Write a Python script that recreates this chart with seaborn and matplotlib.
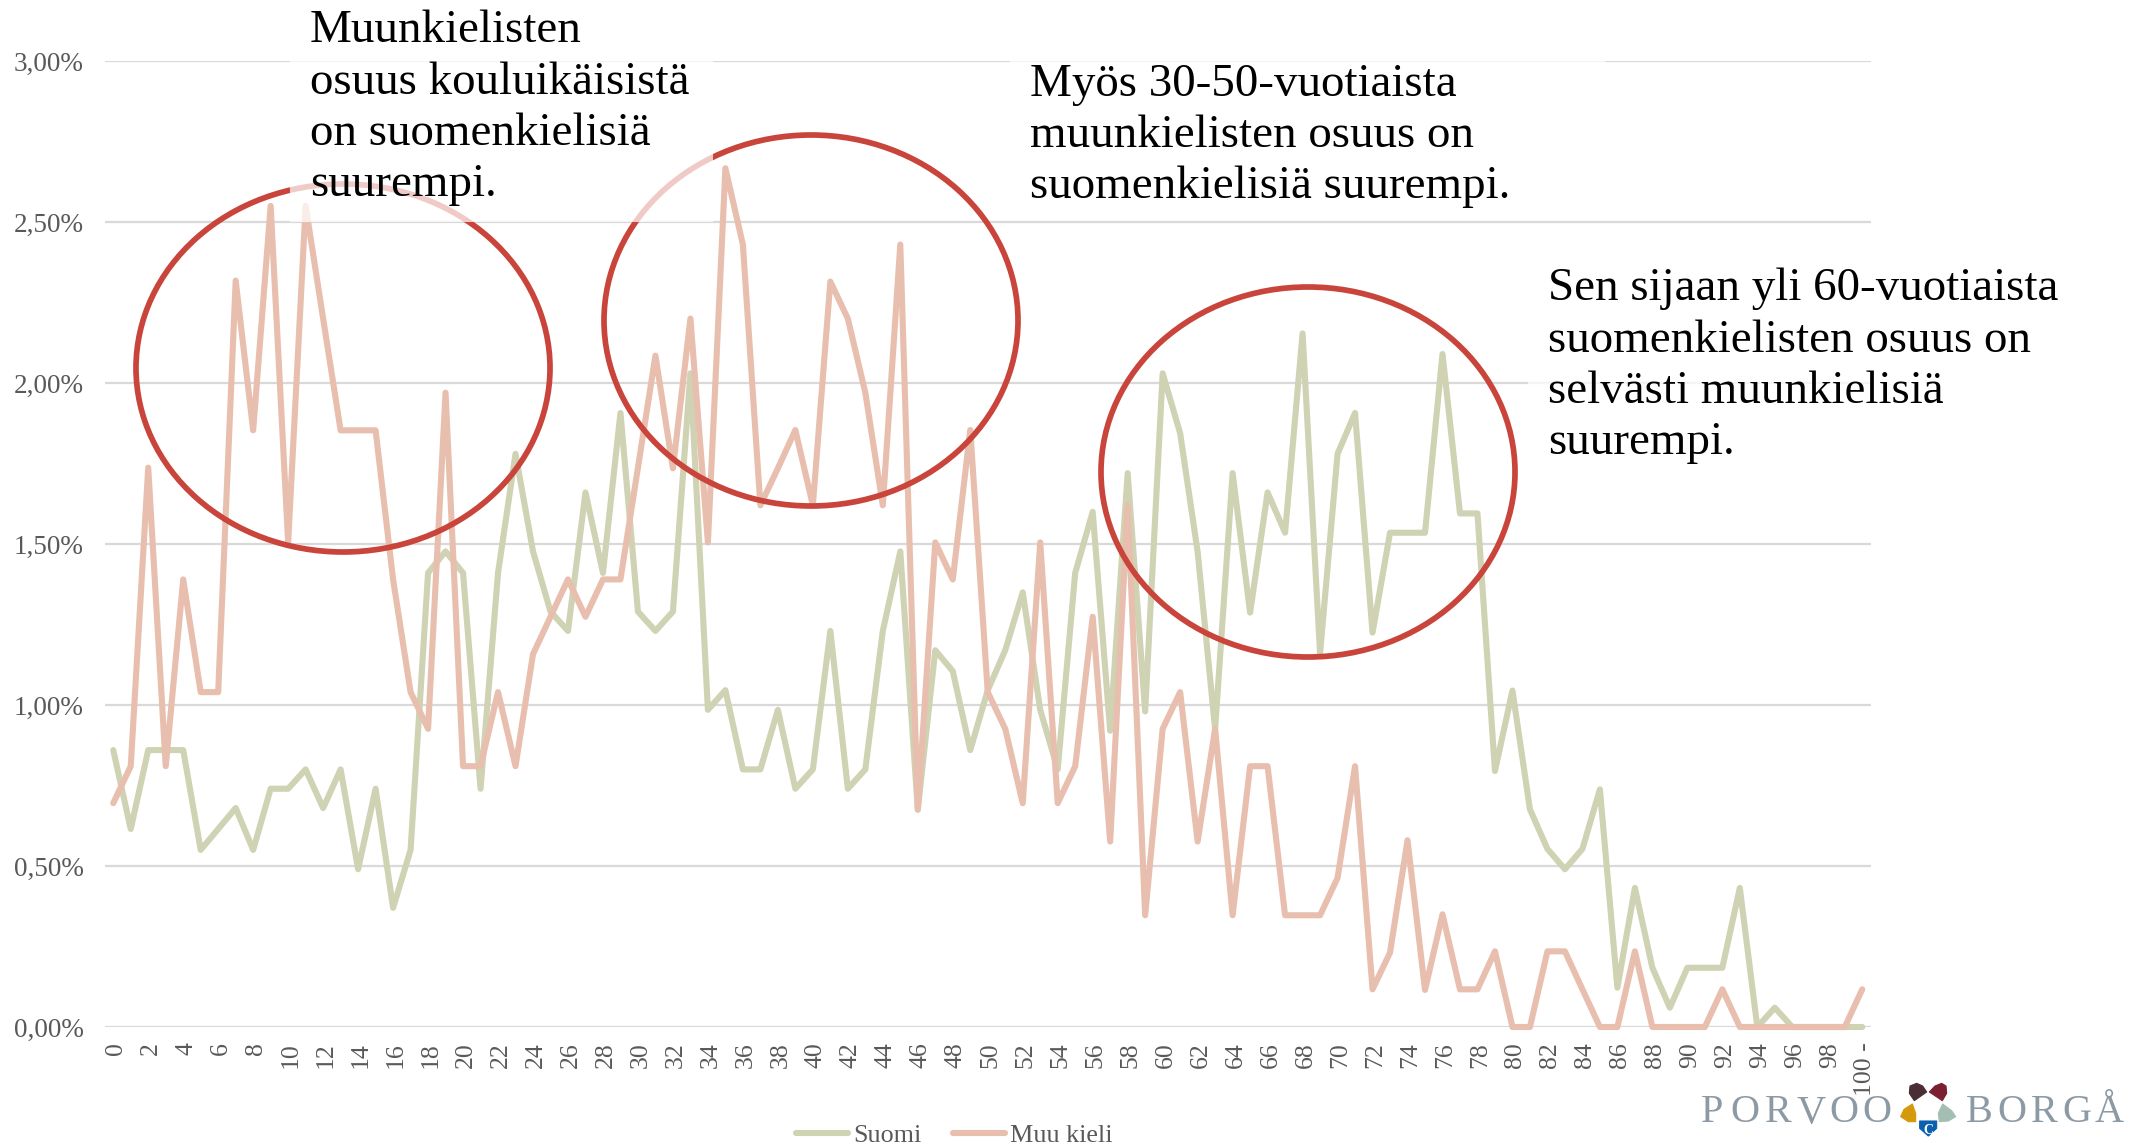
import numpy as np
import pandas as pd
import matplotlib
matplotlib.use("Agg")
import matplotlib.pyplot as plt
import seaborn as sns
from matplotlib.patches import Ellipse, Rectangle, Polygon
from matplotlib.transforms import ScaledTranslation

# osuudet ikavuosittain (%)
ika = list(range(101))
suomi = [0.86, 0.615, 0.86, 0.86, 0.86, 0.55, 0.615, 0.68, 0.55, 0.74,
         0.74, 0.80, 0.68, 0.80, 0.49, 0.74, 0.37, 0.55, 1.41, 1.477,
         1.41, 0.74, 1.41, 1.78, 1.477, 1.29, 1.23, 1.66, 1.41, 1.907,
         1.29, 1.23, 1.29, 2.03, 0.985, 1.046, 0.80, 0.80, 0.985, 0.74,
         0.80, 1.23, 0.74, 0.80, 1.23, 1.477, 0.675, 1.17, 1.105, 0.86,
         1.046, 1.17, 1.35, 0.985, 0.80, 1.41, 1.60, 0.92, 1.72, 0.98,
         2.03, 1.844, 1.476, 0.925, 1.72, 1.287, 1.66, 1.535, 2.154, 1.16,
         1.78, 1.907, 1.225, 1.535, 1.535, 1.535, 2.09, 1.595, 1.595, 0.795,
         1.045, 0.676, 0.553, 0.49, 0.553, 0.738, 0.122, 0.432, 0.184, 0.06,
         0.184, 0.184, 0.184, 0.432, 0.0, 0.06, 0.0, 0.0, 0.0, 0.0, 0.0]
muu = [0.695, 0.81, 1.737, 0.81, 1.39, 1.04, 1.04, 2.318, 1.853, 2.55,
       1.505, 2.55, 2.2, 1.853, 1.853, 1.853, 1.39, 1.04, 0.926, 1.97,
       0.81, 0.81, 1.04, 0.81, 1.158, 1.274, 1.39, 1.274, 1.39, 1.39,
       1.737, 2.085, 1.735, 2.2, 1.505, 2.667, 2.43, 1.62, 1.735, 1.854,
       1.62, 2.315, 2.2, 1.97, 1.62, 2.43, 0.675, 1.505, 1.39, 1.854,
       1.04, 0.926, 0.695, 1.505, 0.695, 0.81, 1.274, 0.576, 1.62, 0.347,
       0.926, 1.04, 0.576, 0.926, 0.347, 0.81, 0.81, 0.347, 0.347, 0.347,
       0.463, 0.81, 0.117, 0.231, 0.58, 0.115, 0.35, 0.117, 0.117, 0.235,
       0.0, 0.0, 0.235, 0.235, 0.117, 0.0, 0.0, 0.235, 0.0, 0.0,
       0.0, 0.0, 0.117, 0.0, 0.0, 0.0, 0.0, 0.0, 0.0, 0.0, 0.117]
x_labels = [str(i) if i % 2 == 0 else "" for i in range(100)] + ["100 -"]
y_ticks = [0, 0.5, 1, 1.5, 2, 2.5, 3]
y_labels = ["0,00%", "0,50%", "1,00%", "1,50%", "2,00%", "2,50%", "3,00%"]

W, H = 2131, 1145
SERIF = "Liberation Serif"

sns.set_style("white")
plt.rcParams["font.family"] = [SERIF, "DejaVu Serif"]

df = pd.DataFrame({"ika": ika * 2,
                   "osuus": suomi + muu,
                   "kieli": ["Suomi"] * 101 + ["Muu kieli"] * 101})

fig = plt.figure(figsize=(W / 100, H / 100), dpi=100)
ax = fig.add_axes([104.5 / W, 1 - 1027 / H, (1871 - 104.5) / W, (1027 - 61) / H])

sns.lineplot(data=df, x="ika", y="osuus", hue="kieli", hue_order=["Suomi", "Muu kieli"],
             palette=["#D0D2B4", "#E8BFAE"], linewidth=4.4, errorbar=None, ax=ax,
             solid_capstyle="round", solid_joinstyle="round", clip_on=False, zorder=3)

ax.set_xlim(-0.5, 100.5)
ax.set_ylim(0, 3)
ax.set_xlabel("")
ax.set_ylabel("")
ax.set_xticks(ika)
ax.set_xticklabels(x_labels, rotation=90, fontsize=18.5, color="#595959")
ax.set_yticks(y_ticks)
ax.set_yticklabels(y_labels, fontsize=19.5, color="#595959")
ax.tick_params(axis="both", length=0)
ax.tick_params(axis="x", pad=11)
ax.tick_params(axis="y", pad=15)
for lab in ax.get_xticklabels():
    lab.set_transform(lab.get_transform() + ScaledTranslation(3 / 100, 0, fig.dpi_scale_trans))
ax.grid(axis="y", color="#D9D9D9", linewidth=1.6)
ax.set_axisbelow(True)
sns.despine(ax=ax, left=True, bottom=True)

handles, labels = ax.get_legend_handles_labels()
ax.legend(handles, labels, loc="center", bbox_to_anchor=(954 / W, 1 - 1135 / H),
          bbox_transform=fig.transFigure, ncol=2, frameon=False, fontsize=18.8,
          labelcolor="#595959", handlelength=2.0, handletextpad=0.2, columnspacing=1.2)

# paalle tuleva kerros kuvapikseleissa: ympyrat, tekstit, logo
over = fig.add_axes([0, 0, 1, 1], facecolor="none")
over.set_xlim(0, W)
over.set_ylim(H, 0)
over.axis("off")

for cx, cy, w, h in [(343, 368, 414, 368), (811, 320.5, 414, 371), (1308, 472, 414, 370)]:
    over.add_patch(Ellipse((cx, cy), w, h, fill=False, edgecolor="#C9443A", linewidth=4.1))

# tekstilaatikoiden puoliksi lapinakyva tausta
for x0, y0, x1, y1 in [(290, 0, 713, 222), (1010, 60, 1605, 215), (1528, 270, 2131, 470)]:
    over.add_patch(Rectangle((x0, y0), x1 - x0, y1 - y0, facecolor="white", alpha=0.72,
                             edgecolor="none"))

notes = [
    (310, [42, 93.5, 145, 196], ["Muunkielisten", "osuus kouluikäisistä", "on suomenkielisiä", "suurempi."]),
    (1030, [96, 147, 198], ["Myös 30-50-vuotiaista", "muunkielisten osuus on", "suomenkielisiä suurempi."]),
    (1548, [300.5, 352, 403, 454], ["Sen sijaan yli 60-vuotiaista", "suomenkielisten osuus on",
                                    "selvästi muunkielisiä", "suurempi."]),
]
for x, baselines, lines in notes:
    for y, line in zip(baselines, lines):
        over.text(x, y, line, fontsize=33.8, color="black", va="baseline", ha="left")

# logo
LOGO_GREY = "#8C9AA6"
for word, x0, step in [("PORVOO", 1712, 32.9), ("BORGÅ", 1979, 32.6)]:
    for i, ch in enumerate(word):
        over.text(x0 + i * step, 1122.5, ch, fontsize=29, color=LOGO_GREY, ha="center", va="baseline")

petals = {
    "#4B2D36": [(90, 48), (110, 40), (128, 48), (140, 66), (103, 92), (88, 70)],
    "#7B2030": [(148, 66), (165, 48), (185, 40), (198, 48), (200, 70), (187, 92)],
    "#D49A0C": [(97, 102), (107, 130), (107, 155), (85, 155), (62, 140), (72, 118)],
    "#A3BFB3": [(188, 102), (215, 122), (227, 140), (205, 153), (178, 155), (175, 130)],
    "#0B5FB0": [(119, 153), (170, 153), (170, 175), (145, 198), (119, 175)],
}
for col, pts in petals.items():
    pts = [(1880 + px / 3, 1070 + py / 3) for px, py in pts]
    over.add_patch(Polygon(pts, closed=True, facecolor=col, edgecolor=col, linewidth=0.8, joinstyle="round"))
over.text(1928.5, 1130, "C", fontsize=10, color="white", ha="center", va="center", fontweight="bold")

fig.savefig("out.png", dpi=100, facecolor="white")
